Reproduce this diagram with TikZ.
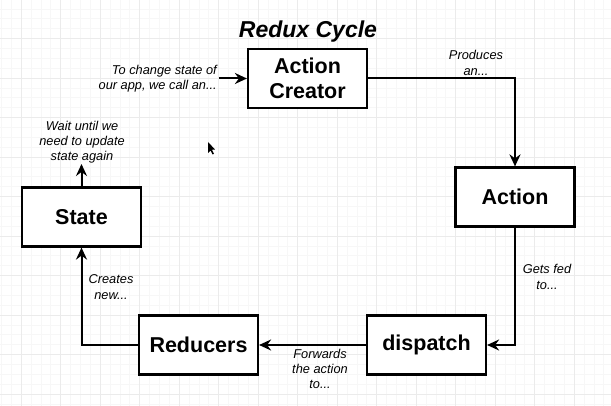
\documentclass[tikz,border=0pt]{standalone}
\usepackage{fontspec}
\setmainfont{Liberation Sans}
\usetikzlibrary{arrows.meta}
\definecolor{gridminor}{HTML}{F7F7F7}
\definecolor{gridmajor}{HTML}{EBEBEB}
\tikzset{
  box/.style={draw=black, line width=2.2pt, fill=white, minimum width=119pt, minimum height=59pt, inner sep=0pt, align=center, font=\fontsize{21.5}{24.5}\selectfont\bfseries},
  conn/.style={line width=2pt, draw=black},
  arr/.style={conn, -{Stealth[length=12pt,width=11pt,inset=4pt]}},
  lbl/.style={font=\fontsize{12.8}{15.2}\selectfont\itshape, inner sep=0pt, align=center},
  ttl/.style={font=\fontsize{23}{27}\selectfont\bfseries\itshape, inner sep=0pt}
}
\begin{document}
\begin{tikzpicture}[x=1pt,y=-1pt]
\useasboundingbox (0,0) rectangle (611,406);
\fill[white] (0,0) rectangle (611,406);
% grid
\foreach \i in {0,...,62} {
  \draw[gridminor, line width=0.5pt] ({1.25+\i*9.875},0) -- ({1.25+\i*9.875},406);
}
\foreach \i in {0,...,41} {
  \draw[gridminor, line width=0.5pt] (0,{-1+\i*9.875}) -- (611,{-1+\i*9.875});
}
\foreach \i in {0,...,15} {
  \draw[gridmajor, line width=0.7pt] ({21+\i*39.5},0) -- ({21+\i*39.5},406);
}
\foreach \i in {0,...,10} {
  \draw[gridmajor, line width=0.7pt] (0,{-1+\i*39.5}) -- (611,{-1+\i*39.5});
}
% title
\node[ttl, anchor=base] (title) at (308,38) {Redux Cycle};
% boxes
\node[box] (ac) at (307.5,78.5) {Action\\Creator};
\node[box] (act) at (515,197) {Action};
\node[box] (dis) at (426.5,345) {dispatch};
\node[box] (red) at (198.5,345) {Reducers};
\node[box] (st) at (81.5,217) {State};
% free ends
\coordinate (in) at (219,78.5);
\coordinate (out) at (81.5,164);
% connectors
\draw[arr] (in) -- (ac.west);
\draw[arr] (ac.east) -| (act.north);
\draw[arr] (act.south) |- (dis.east);
\draw[arr] (dis.west) -- (red.east);
\draw[arr] (red.west) -| (st.south);
\draw[arr] (st.north) -- (out);
% labels
\node[lbl, anchor=east, align=right] (l1) at (217,78.5) {To change state of\\our app, we call an...};
\node[lbl] (l2) at (476,63) {Produces\\an...};
\node[lbl] (l3) at (547,277) {Gets fed\\to...};
\node[lbl] (l4) at (320,369) {Forwards\\the action\\to...};
\node[lbl] (l5) at (111,287) {Creates\\new...};
\node[lbl] (l6) at (82,142) {Wait until we\\need to update\\state again};
% cursor
\fill[black] (208,142) -- (208,153) -- (210.5,150.5) -- (212.5,154.5) -- (214,153.8) -- (212,149.8) -- (215,149.5) -- cycle;
\end{tikzpicture}
\end{document}
